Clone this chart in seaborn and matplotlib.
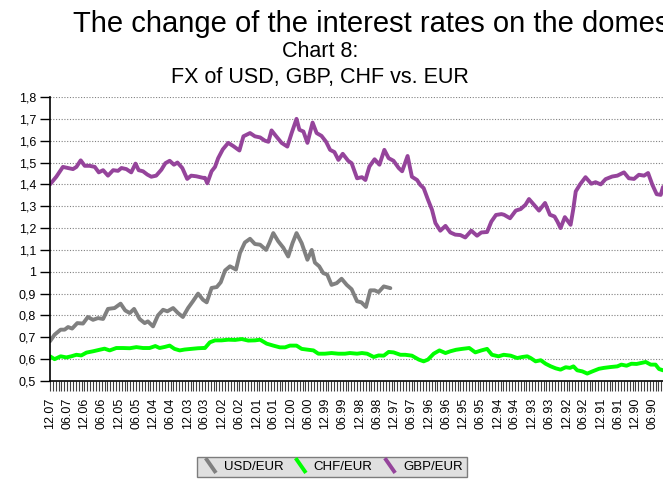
import matplotlib
matplotlib.use("Agg")
import matplotlib.pyplot as plt
from matplotlib.legend_handler import HandlerBase
from matplotlib.lines import Line2D
from matplotlib.ticker import FixedLocator, MultipleLocator
import numpy as np
import pandas as pd
import seaborn as sns

# months counted backwards from 12.2007 (0 = 12.07, 6 = 06.07, ...)
gbp_months = [0, 2.2, 4.5, 6.3, 8.0, 9.2, 10.7, 12.1, 13.8, 15.6, 17.0, 18.5, 20.2, 22.0,
              23.7, 24.9, 26.6, 28.3, 29.8, 30.9, 32.4, 33.9, 35.3, 37.0, 38.8, 40.2, 41.7,
              43.2, 44.4, 46.1, 47.8, 49.2, 51.0, 53.3, 54.0, 54.8, 56.3, 57.5, 58.6, 60.2,
              62.1, 63.9, 66.0, 67.4, 69.7, 71.4, 73.2, 74.9, 76.1, 77.2, 78.7, 80.7, 82.7,
              84.2, 85.9, 86.9, 88.3, 89.7, 91.5, 92.9, 94.6, 96.2, 97.6, 99.1, 100.5, 102.0,
              103.9, 105.1, 107.0, 108.7, 109.9, 111.3, 113.1, 114.8, 116.5, 118.0, 119.7,
              121.5, 122.7, 124.6, 126.1, 127.9, 129.0, 130.2, 131.7, 133.1, 134.3, 136.0,
              137.8, 139.5, 141.2, 143.0, 144.7, 146.8, 148.8, 150.3, 152.3, 153.8, 155.4,
              157.3, 158.2, 160.3, 162.3, 164.0, 165.7, 166.9, 168.6, 170.4, 172.5, 174.2,
              175.8, 176.8, 177.9, 179.4, 181.4, 182.3, 183.2, 184.7, 186.6, 188.6, 190.1,
              191.9, 193.6, 195.9, 197.7, 200.0, 201.7, 203.5, 205.2, 207.0, 208.4, 209.9,
              211.4, 212.8, 213.6]
gbp_eur = [1.40, 1.435, 1.48, 1.475, 1.47, 1.48, 1.51, 1.485, 1.485, 1.48, 1.455, 1.465,
           1.44, 1.465, 1.462, 1.475, 1.47, 1.455, 1.495, 1.465, 1.46, 1.445, 1.435, 1.44,
           1.467, 1.497, 1.508, 1.49, 1.50, 1.475, 1.425, 1.44, 1.437, 1.43, 1.43, 1.405,
           1.46, 1.48, 1.52, 1.56, 1.59, 1.575, 1.555, 1.62, 1.635, 1.62, 1.615, 1.60, 1.595,
           1.647, 1.622, 1.59, 1.573, 1.635, 1.70, 1.65, 1.642, 1.59, 1.683, 1.635, 1.622,
           1.595, 1.558, 1.548, 1.512, 1.54, 1.508, 1.497, 1.428, 1.433, 1.42, 1.482, 1.515,
           1.49, 1.558, 1.52, 1.508, 1.475, 1.46, 1.53, 1.435, 1.42, 1.398, 1.383, 1.33,
           1.284, 1.223, 1.188, 1.21, 1.18, 1.17, 1.168, 1.157, 1.188, 1.165, 1.18, 1.182,
           1.23, 1.26, 1.264, 1.261, 1.245, 1.28, 1.287, 1.307, 1.333, 1.307, 1.28, 1.315,
           1.261, 1.253, 1.23, 1.20, 1.25, 1.215, 1.284, 1.368, 1.40, 1.433, 1.403, 1.41,
           1.40, 1.424, 1.436, 1.44, 1.455, 1.428, 1.425, 1.444, 1.44, 1.452, 1.398, 1.355,
           1.352, 1.388]

usd_months = [0, 1.6, 3.7, 5.1, 6.3, 7.7, 9.5, 11.5, 13.2, 15.0, 16.7, 18.5, 20.2, 22.5,
              24.6, 26.2, 27.8, 29.3, 31.2, 33.0, 34.1, 35.9, 37.6, 39.4, 40.9, 42.9, 44.6,
              46.3, 48.1, 49.8, 51.6, 53.3, 54.6, 56.3, 58.1, 59.5, 61.0, 62.7, 64.8, 66.2,
              67.9, 69.7, 71.4, 73.2, 75.3, 76.4, 77.8, 79.5, 81.3, 83.0, 84.5, 85.9, 87.7,
              89.7, 91.2, 92.3, 93.8, 95.2, 96.6, 98.1, 99.9, 101.6, 103.4, 105.1, 107.0,
              108.5, 110.1, 111.6, 113.1, 114.5, 116.3, 118.6]
usd_eur = [0.682, 0.712, 0.735, 0.735, 0.747, 0.74, 0.765, 0.763, 0.793, 0.78, 0.788, 0.784,
           0.83, 0.834, 0.854, 0.823, 0.811, 0.83, 0.784, 0.765, 0.773, 0.75, 0.80, 0.826,
           0.819, 0.834, 0.811, 0.793, 0.834, 0.865, 0.90, 0.872, 0.86, 0.926, 0.93, 0.952,
           1.006, 1.025, 1.01, 1.086, 1.134, 1.151, 1.127, 1.124, 1.10, 1.131, 1.177, 1.14,
           1.11, 1.07, 1.131, 1.177, 1.131, 1.055, 1.10, 1.042, 1.025, 0.994, 0.987, 0.94,
           0.948, 0.968, 0.94, 0.92, 0.865, 0.86, 0.839, 0.915, 0.915, 0.907, 0.933, 0.925]

chf_months = [0, 1.6, 3.7, 5.7, 7.4, 9.2, 10.9, 12.7, 15.0, 17.3, 19.0, 20.8, 23.1, 25.4,
              27.8, 30.1, 32.4, 34.7, 36.7, 38.2, 40.0, 41.7, 43.4, 45.2, 46.9, 49.2, 51.6,
              53.3, 54.0, 55.7, 57.5, 59.8, 62.1, 64.5, 66.8, 69.1, 71.4, 73.2, 75.5, 77.8,
              80.1, 81.9, 83.6, 85.9, 87.7, 90.0, 91.8, 93.5, 95.8, 98.1, 100.5, 102.8, 104.5,
              107.0, 108.7, 110.5, 112.8, 114.5, 116.3, 118.0, 119.7, 122.1, 123.8, 126.1,
              128.5, 130.2, 131.7, 133.7, 135.7, 137.8, 139.5, 141.5, 143.6, 146.1, 148.2,
              150.3, 152.3, 154.0, 156.3, 158.1, 160.5, 162.8, 164.6, 166.3, 167.5, 169.2,
              171.0, 172.7, 174.5, 176.2, 177.9, 179.7, 181.2, 182.4, 183.7, 185.5, 187.2,
              189.0, 191.3, 193.0, 195.4, 197.7, 199.1, 200.9, 202.6, 204.4, 205.8, 207.6,
              209.3, 211.0, 212.2, 213.6]
chf_eur = [0.613, 0.60, 0.613, 0.608, 0.613, 0.62, 0.617, 0.63, 0.636, 0.643, 0.648, 0.64,
           0.651, 0.651, 0.65, 0.655, 0.651, 0.651, 0.66, 0.651, 0.656, 0.662, 0.647, 0.64,
           0.644, 0.647, 0.65, 0.651, 0.651, 0.677, 0.686, 0.686, 0.689, 0.688, 0.692, 0.685,
           0.686, 0.689, 0.671, 0.662, 0.654, 0.654, 0.662, 0.662, 0.647, 0.643, 0.64, 0.625,
           0.625, 0.628, 0.625, 0.625, 0.628, 0.625, 0.628, 0.625, 0.61, 0.617, 0.616, 0.633,
           0.631, 0.62, 0.62, 0.616, 0.598, 0.59, 0.598, 0.625, 0.64, 0.628, 0.636, 0.643,
           0.647, 0.651, 0.631, 0.64, 0.647, 0.62, 0.613, 0.62, 0.616, 0.605, 0.61, 0.613,
           0.605, 0.59, 0.595, 0.579, 0.567, 0.558, 0.552, 0.563, 0.56, 0.567, 0.549, 0.544,
           0.534, 0.544, 0.556, 0.56, 0.564, 0.567, 0.575, 0.57, 0.579, 0.578, 0.582, 0.587,
           0.575, 0.575, 0.555, 0.549]

tick_labels = ["12.07", "06.07", "12.06", "06.06", "12.05", "06.05", "12.04", "06.04",
               "12.03", "06.03", "12.02", "06.02", "12.01", "06.01", "12.00", "06.00",
               "12.99", "06.99", "12.98", "06.98", "12.97", "06.97", "12.96", "06.96",
               "12.95", "06.95", "12.94", "06.94", "12.93", "06.93", "12.92", "06.92",
               "12.91", "06.91", "12.90", "06.90"]
y_ticks = [0.5, 0.6, 0.7, 0.8, 0.9, 1.0, 1.1, 1.2, 1.3, 1.4, 1.5, 1.6, 1.7, 1.8]
y_labels = ["0,5", "0,6", "0,7", "0,8", "0,9", "1", "1,1", "1,2", "1,3", "1,4", "1,5",
            "1,6", "1,7", "1,8"]

series_names = ["USD/EUR", "CHF/EUR", "GBP/EUR"]
palette = {"USD/EUR": "#808080", "CHF/EUR": "#00ff00", "GBP/EUR": "#95449b"}

df = pd.concat([
    pd.DataFrame({"month": usd_months, "rate": usd_eur, "pair": "USD/EUR"}),
    pd.DataFrame({"month": chf_months, "rate": chf_eur, "pair": "CHF/EUR"}),
    pd.DataFrame({"month": gbp_months, "rate": gbp_eur, "pair": "GBP/EUR"}),
], ignore_index=True)


class DiagonalHandler(HandlerBase):
    # legend keys are drawn as short slanted strokes
    def create_artists(self, legend, orig_handle, xdescent, ydescent, width, height,
                       fontsize, trans):
        line = Line2D([0.25 * width, 0.85 * width], [height + 2, -2],
                      color=orig_handle.get_color(), lw=orig_handle.get_linewidth(),
                      solid_capstyle="butt")
        line.set_transform(trans)
        return [line]


sns.set_style("white")
plt.rcParams["font.family"] = ["Liberation Sans", "DejaVu Sans"]
plt.rcParams["text.color"] = "black"

fig = plt.figure(figsize=(6.63, 4.8), dpi=100)
ax = fig.add_axes([50 / 663, 99 / 480, 1 - 50 / 663, 284 / 480])

sns.lineplot(data=df, x="month", y="rate", hue="pair", hue_order=series_names,
             palette=palette, estimator=None, linewidth=2.8, ax=ax, legend=False)

ax.set_xlim(0, 213.6)
ax.set_ylim(0.5, 1.8)
ax.set_xlabel("")
ax.set_ylabel("")

ax.xaxis.set_major_locator(FixedLocator(np.arange(len(tick_labels)) * 6))
ax.set_xticklabels(tick_labels, rotation=90, fontsize=9)
ax.xaxis.set_minor_locator(MultipleLocator(1))
ax.tick_params(axis="x", which="both", direction="out", length=7, width=0.8,
               color="#404040", labelcolor="black", pad=5, bottom=True)

ax.set_yticks(y_ticks)
ax.set_yticklabels(y_labels, fontsize=9)
ax.tick_params(axis="y", direction="out", length=7, width=1, color="black",
               labelcolor="black", pad=3, left=True)

for v in y_ticks[1:]:
    ax.axhline(v, color="#808080", lw=0.8, linestyle=(0, (1, 1.5)), zorder=0)

for side in ["top", "right"]:
    ax.spines[side].set_visible(False)
for side in ["left", "bottom"]:
    ax.spines[side].set_color("black")
    ax.spines[side].set_linewidth(1.2)

# the heading is wider than the picture and gets cut at the right edge, as in the source
fig.text(73 / 663, 1 - 32 / 480, "The change of the interest rates on the domestic market",
         fontsize=21, ha="left", va="baseline")
fig.text(320 / 663, 1 - 57 / 480, "Chart 8:", fontsize=15.5, ha="center", va="baseline")
fig.text(320 / 663, 1 - 83 / 480, "FX of USD, GBP, CHF vs. EUR", fontsize=15.5,
         ha="center", va="baseline")

handles = [Line2D([], [], color=palette[n], lw=2.8) for n in series_names]
leg = fig.legend(handles, series_names, loc="center", bbox_to_anchor=(332 / 663, 1 - 467 / 480),
                 ncol=3, frameon=True, fontsize=9.5, handlelength=1.3, handletextpad=0.4,
                 columnspacing=0.6, borderpad=0.3, fancybox=False,
                 handler_map={Line2D: DiagonalHandler()})
leg.get_frame().set_facecolor("#d9d9d9")
leg.get_frame().set_edgecolor("#606060")
leg.get_frame().set_linewidth(1)

fig.savefig("out.png", dpi=100)
